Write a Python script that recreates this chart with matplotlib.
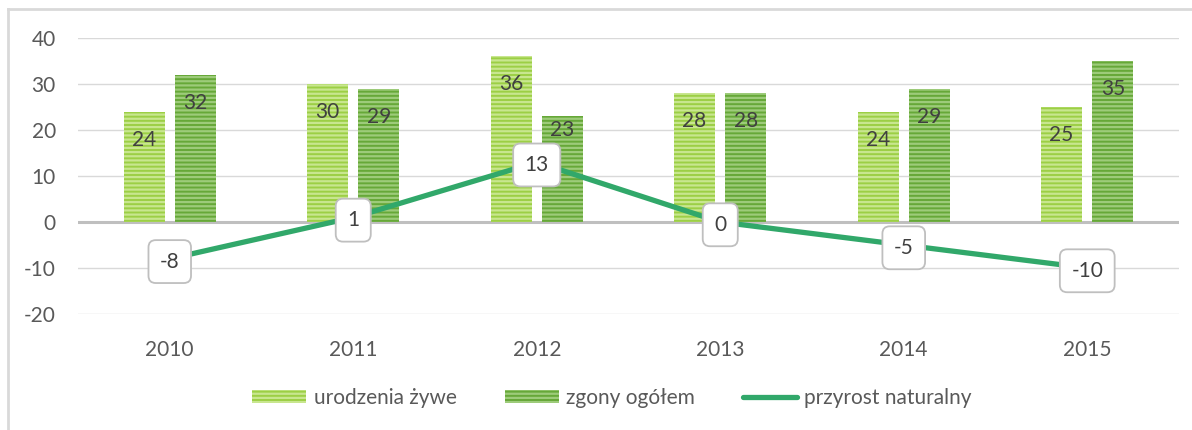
import matplotlib
matplotlib.use('Agg')
import matplotlib.pyplot as plt
import numpy as np
from matplotlib.patches import Patch
from matplotlib.lines import Line2D

plt.rcParams['font.family'] = ['Lato', 'DejaVu Sans']
plt.rcParams['hatch.linewidth'] = 1.6
plt.rcParams['axes.unicode_minus'] = False

years = ['2010', '2011', '2012', '2013', '2014', '2015']
urodzenia = [24, 30, 36, 28, 24, 25]
zgony = [32, 29, 23, 28, 29, 35]
przyrost = [-8, 1, 13, 0, -5, -10]
yticks = [-20, -10, 0, 10, 20, 30, 40]

light_green = '#9ccf45'
light_stripe = '#c8e68f'
dark_green = '#66a838'
dark_stripe = '#9dcb7a'
line_green = '#31a86a'
text_col = '#595959'
fs = 15

fig = plt.figure(figsize=(11.92, 4.30), dpi=100)
ax = fig.add_axes([78 / 1192, 1 - 314 / 430, (1179 - 78) / 1192, (314 - 38) / 430])

x = np.arange(len(years))
w = 0.224
off = 0.14
ax.bar(x - off, urodzenia, w, color=light_green, edgecolor=light_stripe,
       linewidth=0, hatch='----', zorder=2)
ax.bar(x + off, zgony, w, color=dark_green, edgecolor=dark_stripe,
       linewidth=0, hatch='----', zorder=2)

# bar labels sit inside the top of the bar, moved up when they would hit the line label
for xs, vals in ((x - off, urodzenia), (x + off, zgony)):
    for xi, v, p in zip(xs, vals, przyrost):
        ylab = max(v - 6.1, p + 7)
        ax.text(xi, ylab, str(v), ha='center', va='center', fontsize=fs,
                color='#404040', zorder=3)

ax.plot(x, przyrost, color=line_green, linewidth=3.8, solid_capstyle='round', zorder=4)
for xi, v in zip(x, przyrost):
    ax.annotate(str(v), (xi, v), xytext=(0, -2), textcoords='offset points',
                ha='center', va='center', fontsize=fs, color='#404040', zorder=5,
                bbox=dict(boxstyle='round,pad=0.55,rounding_size=0.35', fc='white',
                          ec='#bfbfbf', lw=1.3))

ax.set_xlim(-0.5, len(years) - 0.5)
ax.set_ylim(-20, 40)
ax.set_yticks(yticks)
ax.set_xticks(x)
ax.set_xticklabels(years)
ax.tick_params(axis='both', length=0, labelsize=fs, colors=text_col)
ax.tick_params(axis='y', pad=16)
ax.tick_params(axis='x', pad=19)
for s in ax.spines.values():
    s.set_visible(False)
ax.grid(axis='y', color='#d9d9d9', linewidth=1, zorder=0)
ax.set_axisbelow(True)
ax.axhline(0, color='#bfbfbf', linewidth=2.2, zorder=1)

# frame of the chart area
fig.add_artist(Line2D([8 / 1192, 8 / 1192], [0, 1 - 9 / 430], color='#d9d9d9', lw=2))
fig.add_artist(Line2D([8 / 1192, 1], [1 - 9 / 430, 1 - 9 / 430], color='#d9d9d9', lw=2))

handles = [Patch(facecolor=light_green, edgecolor=light_stripe, hatch='----', linewidth=0),
           Patch(facecolor=dark_green, edgecolor=dark_stripe, hatch='----', linewidth=0),
           Line2D([], [], color=line_green, linewidth=3.8, solid_capstyle='round')]
labels = ['urodzenia żywe', 'zgony ogółem', 'przyrost naturalny']
leg = fig.legend(handles, labels, loc='center', bbox_to_anchor=(612 / 1192, 1 - 398 / 430),
                 ncol=3, frameon=False, fontsize=fs, handlelength=2.6, handleheight=0.6,
                 handletextpad=0.35, columnspacing=2.3)
for t in leg.get_texts():
    t.set_color(text_col)

fig.savefig('out.png', dpi=100, facecolor='white')
